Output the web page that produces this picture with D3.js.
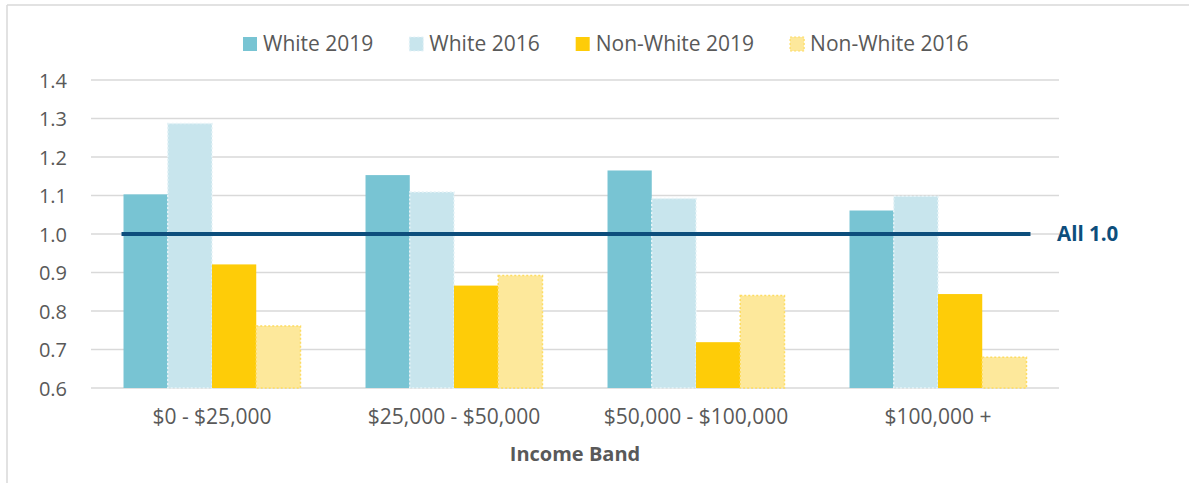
<!DOCTYPE html>
<html>
<head>
<meta charset="utf-8">
<script src="https://cdn.jsdelivr.net/npm/d3@7"></script>
<style>
  html, body { margin: 0; padding: 0; background: #fff; }
  svg { display: block; font-family: "Open Sans", "Noto Sans", sans-serif; }
</style>
</head>
<body>
<svg id="chart" width="1189" height="483"></svg>
<script>
// Income bands along the x axis
const categories = ["$0 - $25,000", "$25,000 - $50,000", "$50,000 - $100,000", "$100,000 +"];
// Series shown in each band
const seriesNames = ["White 2019", "White 2016", "Non-White 2019", "Non-White 2016"];
const white2019 = [1.103, 1.153, 1.165, 1.061];
const white2016 = [1.287, 1.109, 1.092, 1.098];
const nonWhite2019 = [0.921, 0.866, 0.719, 0.844];
const nonWhite2016 = [0.761, 0.892, 0.840, 0.680];
const yTicks = [0.6, 0.7, 0.8, 0.9, 1.0, 1.1, 1.2, 1.3, 1.4];
const referenceValue = 1.0;
const referenceLabel = "All 1.0";
const xTitle = "Income Band";

const seriesValues = [white2019, white2016, nonWhite2019, nonWhite2016];
const fills = ["#78c4d3", "#c8e5ed", "#fecc08", "#fde89b"];
const outlines = [null, "#e6f3f7", null, "#fddc62"];

const svg = d3.select("#chart");
const W = 1189, H = 483;
const plot = { left: 91, right: 1059, top: 80, bottom: 388 };
const textColor = "#595959";
const gridColor = "#d9d9d9";

// outer frame (left and top edges visible)
svg.append("line").attr("x1", 7).attr("x2", 7).attr("y1", 5).attr("y2", H)
  .attr("stroke", gridColor).attr("stroke-width", 1.5);
svg.append("line").attr("x1", 7).attr("x2", W).attr("y1", 5).attr("y2", 5)
  .attr("stroke", gridColor).attr("stroke-width", 1.5);

const y = d3.scaleLinear().domain([0.6, 1.4]).range([plot.bottom, plot.top]);
const x0 = d3.scaleBand().domain(categories).range([plot.left, plot.right]).padding(0);
const x1 = d3.scaleBand().domain(seriesNames).range([0, x0.bandwidth()])
  .paddingInner(0).paddingOuter(0.735);

// horizontal gridlines
svg.append("g").selectAll("line").data(yTicks).join("line")
  .attr("x1", plot.left).attr("x2", plot.right)
  .attr("y1", d => y(d)).attr("y2", d => y(d))
  .attr("stroke", gridColor).attr("stroke-width", 1.5);

// y axis labels
const yAxis = d3.axisLeft(y).tickValues(yTicks).tickFormat(d3.format(".1f")).tickSize(0).tickPadding(0);
const yg = svg.append("g").attr("transform", `translate(${67},0)`).call(yAxis);
yg.select(".domain").remove();
yg.selectAll("text").attr("fill", textColor).style("font-size", "20px")
  .style("font-family", "'Open Sans', sans-serif").attr("dy", "0.35em").attr("x", 0);

// bars
const groups = svg.append("g").selectAll("g").data(categories).join("g")
  .attr("transform", d => `translate(${x0(d)},0)`);
groups.selectAll("rect")
  .data((c, ci) => seriesNames.map((s, si) => ({ s, si, v: seriesValues[si][ci] })))
  .join("rect")
  .attr("x", d => x1(d.s))
  .attr("y", d => y(d.v))
  .attr("width", x1.bandwidth())
  .attr("height", d => y(0.6) - y(d.v))
  .attr("fill", d => fills[d.si])
  .attr("stroke", d => outlines[d.si] || "none")
  .attr("stroke-width", 1.5)
  .attr("stroke-dasharray", "2,2");

// reference line at 1.0
const lineStart = x0(categories[0]) + x1(seriesNames[0]) - 2;
const lineEnd = x0(categories[categories.length - 1]) + x1(seriesNames[seriesNames.length - 1]) + x1.bandwidth() + 4;
svg.append("line")
  .attr("x1", lineStart).attr("x2", lineEnd)
  .attr("y1", y(referenceValue)).attr("y2", y(referenceValue))
  .attr("stroke", "#0d4e7c").attr("stroke-width", 4);
svg.append("text")
  .attr("x", 1057).attr("y", y(referenceValue)).attr("dy", "0.36em")
  .attr("fill", "#0d4e7c").style("font-size", "20.5px").style("font-weight", "bold")
  .text(referenceLabel);

// x axis labels
const xAxis = d3.axisBottom(x0).tickSize(0).tickPadding(0);
const xg = svg.append("g").attr("transform", `translate(0,${plot.bottom})`).call(xAxis);
xg.select(".domain").remove();
xg.selectAll("text").attr("fill", textColor).style("font-size", "21px")
  .style("font-family", "'Open Sans', sans-serif").attr("y", 36).attr("dy", 0);

// axis title
svg.append("text")
  .attr("x", (plot.left + plot.right) / 2).attr("y", 461)
  .attr("text-anchor", "middle").attr("fill", textColor)
  .style("font-size", "20px").style("font-weight", "bold")
  .text(xTitle);

// legend
const legend = svg.append("g");
let lx = 243;
seriesNames.forEach((name, i) => {
  legend.append("rect")
    .attr("x", lx).attr("y", 37).attr("width", 14).attr("height", 14)
    .attr("fill", fills[i])
    .attr("stroke", outlines[i] || "none").attr("stroke-width", 1.2).attr("stroke-dasharray", "2,2");
  const t = legend.append("text")
    .attr("x", lx + 20).attr("y", 51)
    .attr("fill", textColor).style("font-size", "21px")
    .text(name);
  lx += 20 + t.node().getComputedTextLength() + 36;
});
</script>
</body>
</html>
